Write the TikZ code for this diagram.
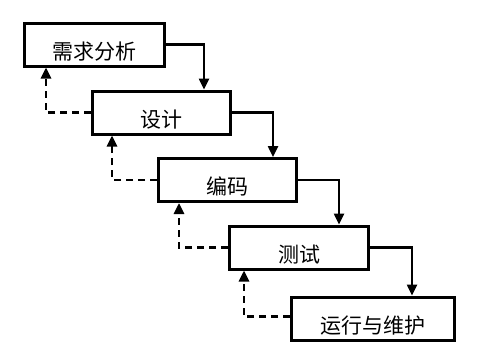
\documentclass[tikz,border=0pt]{standalone}
\usepackage{fontspec}
\newfontfamily\cjk{Noto Sans CJK SC}
\usetikzlibrary{arrows.meta}
\begin{document}
\begin{tikzpicture}[x=1pt,y=-1pt,
  stage/.style={draw, line width=3pt, rectangle, minimum height=43pt,
    inner sep=0pt, font=\cjk\fontsize{21}{23}\selectfont,
    text height=29pt, text depth=0pt},
  flow/.style={line width=2.4pt, -{Triangle[length=11pt,width=10pt]}},
  back/.style={line width=2.6pt, dash pattern=on 7pt off 5pt, -{Triangle[length=11pt,width=10pt]}}]
\useasboundingbox (0,0) rectangle (480,360);
\node[stage, minimum width=140pt] (b1) at (94.5,44.5) {需求分析};
\node[stage, minimum width=138pt] (b2) at (161.5,112.5) {设计};
\node[stage, minimum width=138pt] (b3) at (227.5,180) {编码};
\node[stage, minimum width=139pt] (b4) at (299,247.5) {测试};
\node[stage, minimum width=163pt] (b5) at (373,318.5) {运行与维护};
\draw[flow] (b1.east) -| ([xshift=42.5pt]b2.north);
\draw[flow] (b2.east) -| ([xshift=45.5pt]b3.north);
\draw[flow] (b3.east) -| ([xshift=40pt]b4.north);
\draw[flow] (b4.east) -| ([xshift=39pt]b5.north);
\draw[back] (b2.west) -| ([xshift=-48.5pt]b1.south);
\draw[back] (b3.west) -| ([xshift=-49.5pt]b2.south);
\draw[back] (b4.west) -| ([xshift=-48.5pt]b3.south);
\draw[back] ([yshift=2pt]b5.west) -| ([xshift=-55pt]b4.south);
\end{tikzpicture}
\end{document}
